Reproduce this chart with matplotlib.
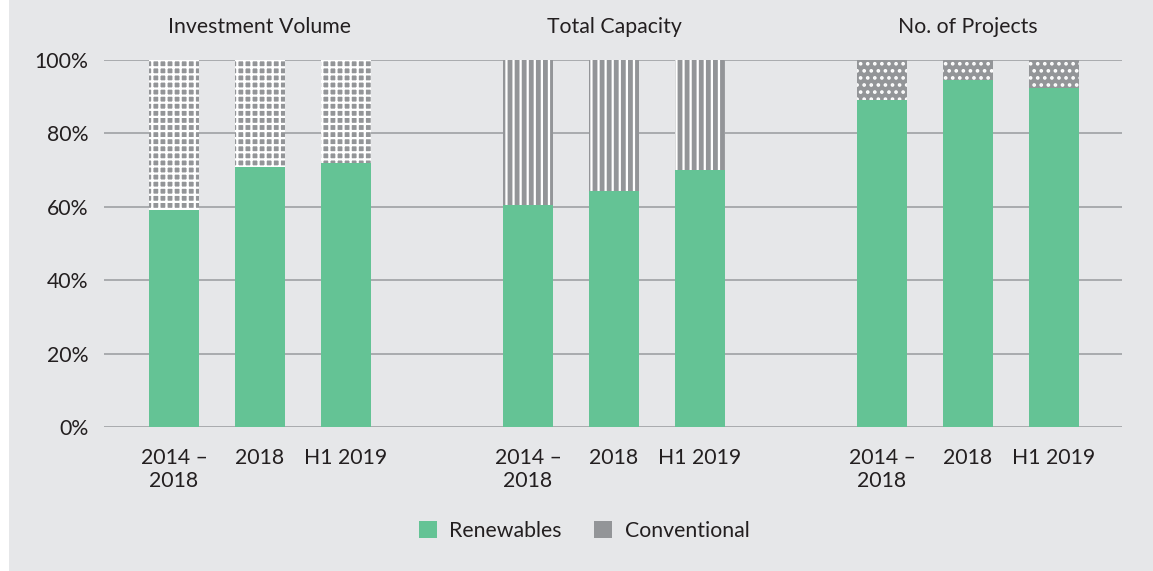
import matplotlib
matplotlib.use("Agg")
import matplotlib.pyplot as plt
from matplotlib.patches import Rectangle, Patch

# ---- data ----
groups = ["Investment Volume", "Total Capacity", "No. of Projects"]
periods = ["2014 –\n2018", "2018", "H1 2019"]
renewables = {
    "Investment Volume": [59.2, 70.9, 71.9],
    "Total Capacity": [60.5, 64.3, 70.0],
    "No. of Projects": [89.1, 94.6, 92.5],
}
conventional = {g: [100 - v for v in renewables[g]] for g in groups}
hatches = {"Investment Volume": "++", "Total Capacity": "||", "No. of Projects": ".."}
series_labels = ["Renewables", "Conventional"]
yticks = [0, 20, 40, 60, 80, 100]
ytick_labels = [f"{t}%" for t in yticks]

GREEN = "#64c395"
GRAY = "#939598"
BG = "#e6e7e9"
GRID = "#a7a9ac"
TXT = "#231f20"
FS = 18

DPI = 85
plt.rcParams["font.family"] = ["Lato", "DejaVu Sans"]
plt.rcParams["hatch.linewidth"] = 1.9

fig = plt.figure(figsize=(1153 / DPI, 571 / DPI), dpi=DPI, facecolor="white")
fig.patches.append(Rectangle((9 / 1153, 0), 1 - 9 / 1153, 1, transform=fig.transFigure,
                             facecolor=BG, edgecolor="none", zorder=-10))

W, H = 1153, 571
ax = fig.add_axes([104 / W, (H - 427) / H, (1122 - 104) / W, (427 - 60) / H])
ax.set_facecolor(BG)
ax.patch.set_alpha(0)

group_step = 354 / 86
bar_w = 50 / 86
tick_pos, tick_lab = [], []
for gi, g in enumerate(groups):
    xs = [gi * group_step + i for i in range(len(periods))]
    ax.bar(xs, renewables[g], width=bar_w, color=GREEN, linewidth=0, zorder=3)
    ax.bar(xs, conventional[g], bottom=renewables[g], width=bar_w, color=GRAY,
           edgecolor="white", linewidth=0, hatch=hatches[g], zorder=3)
    ax.text(xs[1], 1 + 33 / 367, g, transform=ax.get_xaxis_transform(), ha="center",
            va="center", fontsize=FS, color=TXT)
    tick_pos += xs
    tick_lab += periods

ax.set_xlim(-70 / 86, (1122 - 174) / 86)
ax.set_ylim(0, 100)
ax.set_yticks(yticks)
ax.set_yticklabels(ytick_labels)
ax.set_xticks(tick_pos)
ax.set_xticklabels(tick_lab, linespacing=1.15)
ax.tick_params(axis="both", length=0, labelsize=FS, labelcolor=TXT)
ax.tick_params(axis="y", pad=13)
ax.tick_params(axis="x", pad=18)
for s in ax.spines.values():
    s.set_visible(False)
ax.grid(axis="y", color=GRID, linewidth=1.6, zorder=0)
ax.set_axisbelow(True)

handles = [Patch(facecolor=GREEN, edgecolor="none", label=series_labels[0]),
           Patch(facecolor=GRAY, edgecolor="none", label=series_labels[1])]
fig.legend(handles=handles, loc="center", bbox_to_anchor=(584 / W, 1 - 531 / H),
           ncol=2, frameon=False, fontsize=FS, handlelength=0.85, handleheight=0.85,
           handletextpad=0.6, columnspacing=1.5, labelcolor=TXT)

fig.savefig("out.png", dpi=DPI, facecolor=fig.get_facecolor())
